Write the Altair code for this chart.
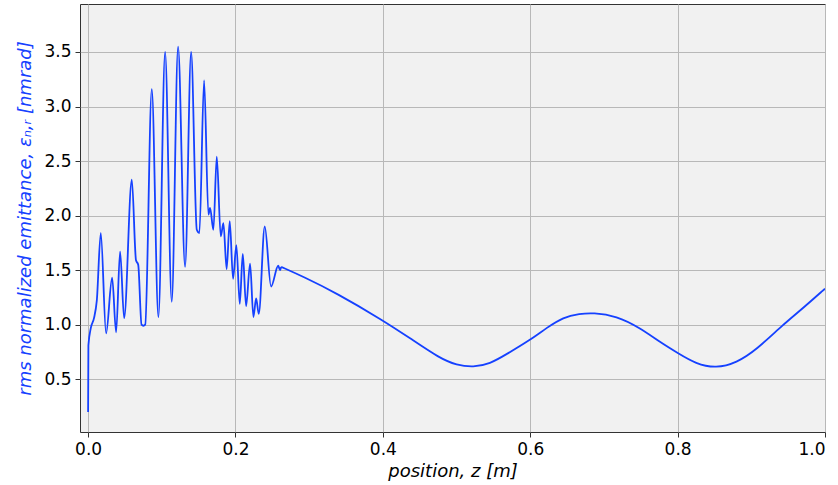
import altair as alt
import pandas as pd

# Position along the beamline [m]
z = [
    0.0, 0.0004, 0.0037, 0.008, 0.0118, 0.0172, 0.0244, 0.0326, 0.038, 0.0434,
    0.0489, 0.0593, 0.065, 0.068, 0.0725, 0.075, 0.0775, 0.0864, 0.0954, 0.1045,
    0.1135, 0.1221, 0.1316, 0.1398, 0.1475, 0.151, 0.1574, 0.1633, 0.1655, 0.170,
    0.1746, 0.180, 0.1836, 0.188, 0.1922, 0.1967, 0.2012, 0.2058, 0.2099, 0.2144,
    0.2198, 0.2243, 0.228, 0.2316, 0.2397, 0.2483, 0.258, 0.2605, 0.262, 0.292,
    0.337, 0.4, 0.436, 0.4775, 0.5, 0.5227, 0.5453, 0.568, 0.6, 0.622,
    0.645, 0.667, 0.685, 0.717, 0.749, 0.776, 0.80, 0.825, 0.852, 0.880,
    0.907, 0.943, 0.970, 1.0,
]

# rms normalized emittance [nm rad]
emittance = [
    0.20, 0.81, 0.97, 1.06, 1.22, 1.84, 0.92, 1.43, 0.93, 1.67,
    1.06, 2.33, 1.59, 1.55, 1.00, 0.99, 1.00, 3.16, 1.07, 3.50,
    1.21, 3.55, 1.53, 3.50, 1.87, 1.84, 3.24, 2.01, 2.07, 1.87,
    2.54, 1.81, 1.93, 1.51, 1.95, 1.42, 1.73, 1.19, 1.65, 1.17,
    1.56, 1.07, 1.24, 1.10, 1.90, 1.35, 1.54, 1.50, 1.53, 1.44,
    1.29, 1.04, 0.88, 0.69, 0.63, 0.61, 0.64, 0.73, 0.86, 0.97,
    1.07, 1.10, 1.11, 1.08, 0.97, 0.84, 0.74, 0.64, 0.60, 0.65,
    0.77, 1.00, 1.15, 1.33,
]

x_ticks = [0.0, 0.2, 0.4, 0.6, 0.8, 1.0]
y_ticks = [0.5, 1.0, 1.5, 2.0, 2.5, 3.0, 3.5]

# z where the rapid oscillations give way to the slow swing downstream
Z_SPLIT = 0.262

df = pd.DataFrame({"z": z, "emittance": emittance})

BLUE = "#1541ff"
FONT = "DejaVu Sans"

x_enc = alt.X(
    "z:Q",
    scale=alt.Scale(domain=[-0.011, 1.0], nice=False, zero=False),
    axis=alt.Axis(
        values=x_ticks,
        format=".1f",
        title="position,  z [m]",
        titleFontStyle="italic",
        titleFontWeight="normal",
        titleFontSize=18,
        titleColor="#000000",
        titlePadding=5,
    ),
)
y_enc = alt.Y(
    "emittance:Q",
    scale=alt.Scale(domain=[0.016, 3.94], nice=False, zero=False),
    axis=alt.Axis(
        values=y_ticks,
        format=".1f",
        title="rms normalized emittance,  εₙ,ᵣ [nmrad]",
        titleFontStyle="italic",
        titleFontWeight="normal",
        titleFontSize=18,
        titleColor=BLUE,
        titlePadding=9,
    ),
)

base = alt.Chart(df).encode(x=x_enc, y=y_enc)

# fast oscillating section near the source
fast = base.transform_filter(alt.datum.z <= Z_SPLIT).mark_line(
    color=BLUE, strokeWidth=1.8, interpolate="monotone", clip=True
)
# smooth downstream section
slow = base.transform_filter(alt.datum.z >= Z_SPLIT).mark_line(
    color=BLUE, strokeWidth=1.8, interpolate="basis", clip=True
)

chart = (
    alt.layer(fast, slow)
    .properties(
        width=745,
        height=428,
        autosize=alt.AutoSizeParams(type="none"),
        padding={"left": 80, "top": 4, "right": 13, "bottom": 53},
        background="#ffffff",
    )
    .configure_view(fill="#f1f1f1", stroke="#333333", strokeWidth=1)
    .configure_axis(
        labelFont=FONT,
        titleFont=FONT,
        labelFontSize=17,
        labelColor="#000000",
        labelPadding=4,
        tickColor="#333333",
        tickSize=5,
        tickWidth=1,
        domain=False,
        grid=True,
        gridColor="#b8b8b8",
        gridWidth=1,
    )
)

chart.save("out.html", embed_options={"renderer": "svg", "actions": False})
